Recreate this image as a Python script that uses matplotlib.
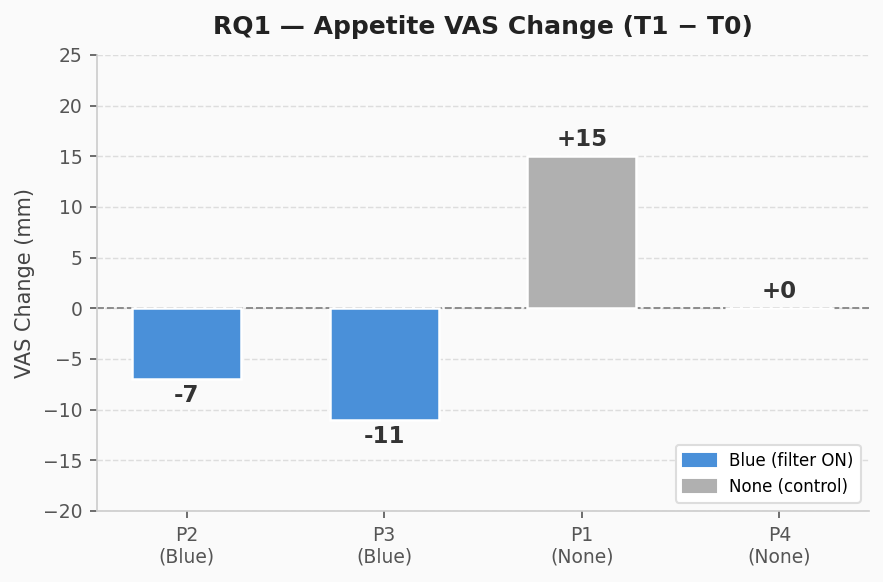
import matplotlib
matplotlib.use("Agg")
import matplotlib.pyplot as plt
from matplotlib.patches import Patch

# dados
participantes = ["P2\n(Blue)", "P3\n(Blue)", "P1\n(None)", "P4\n(None)"]
variacao = [-7, -11, 15, 0]
grupo = ["Blue", "Blue", "None", "None"]

cores = {"Blue": "#4a90d9", "None": "#b0b0b0"}

fig, ax = plt.subplots(figsize=(883 / 150, 582 / 150), dpi=150)
fig.patch.set_facecolor("#fafafa")
ax.set_facecolor("#fafafa")

x = range(len(participantes))
ax.bar(x, variacao, width=0.55, color=[cores[g] for g in grupo],
       edgecolor="white", linewidth=1.2, zorder=3)

# rotulos das barras
for i, v in zip(x, variacao):
    if v >= 0:
        ax.text(i, v + 0.5, f"+{v}", ha="center", va="bottom",
                fontsize=11, fontweight="bold", color="#333333", zorder=4)
    else:
        ax.text(i, v - 0.5, f"{v}", ha="center", va="top",
                fontsize=11, fontweight="bold", color="#333333", zorder=4)

ax.axhline(0, color="#888888", linestyle="--", linewidth=0.9, zorder=2)

ax.set_ylim(-20, 25)
ax.set_yticks(range(-20, 26, 5))
ax.set_xticks(list(x))
ax.set_xticklabels(participantes)
ax.grid(axis="y", linestyle="--", color="#dddddd", linewidth=0.7, zorder=0)

ax.set_title("RQ1 — Appetite VAS Change (T1 − T0)", fontsize=12,
             fontweight="bold", color="#222222", pad=10)
ax.set_ylabel("VAS Change (mm)", fontsize=10, color="#444444")
ax.tick_params(colors="#555555", labelsize=9)

for lado in ["top", "right"]:
    ax.spines[lado].set_visible(False)
for lado in ["left", "bottom"]:
    ax.spines[lado].set_color("#cccccc")

legenda = [Patch(color=cores["Blue"], label="Blue (filter ON)"),
           Patch(color=cores["None"], label="None (control)")]
ax.legend(handles=legenda, loc="lower right", fontsize=8, framealpha=1,
          edgecolor="#dddddd")

fig.subplots_adjust(left=0.110, right=0.984, top=0.9055, bottom=0.122)
plt.savefig("out.png", dpi=150, facecolor=fig.get_facecolor())
